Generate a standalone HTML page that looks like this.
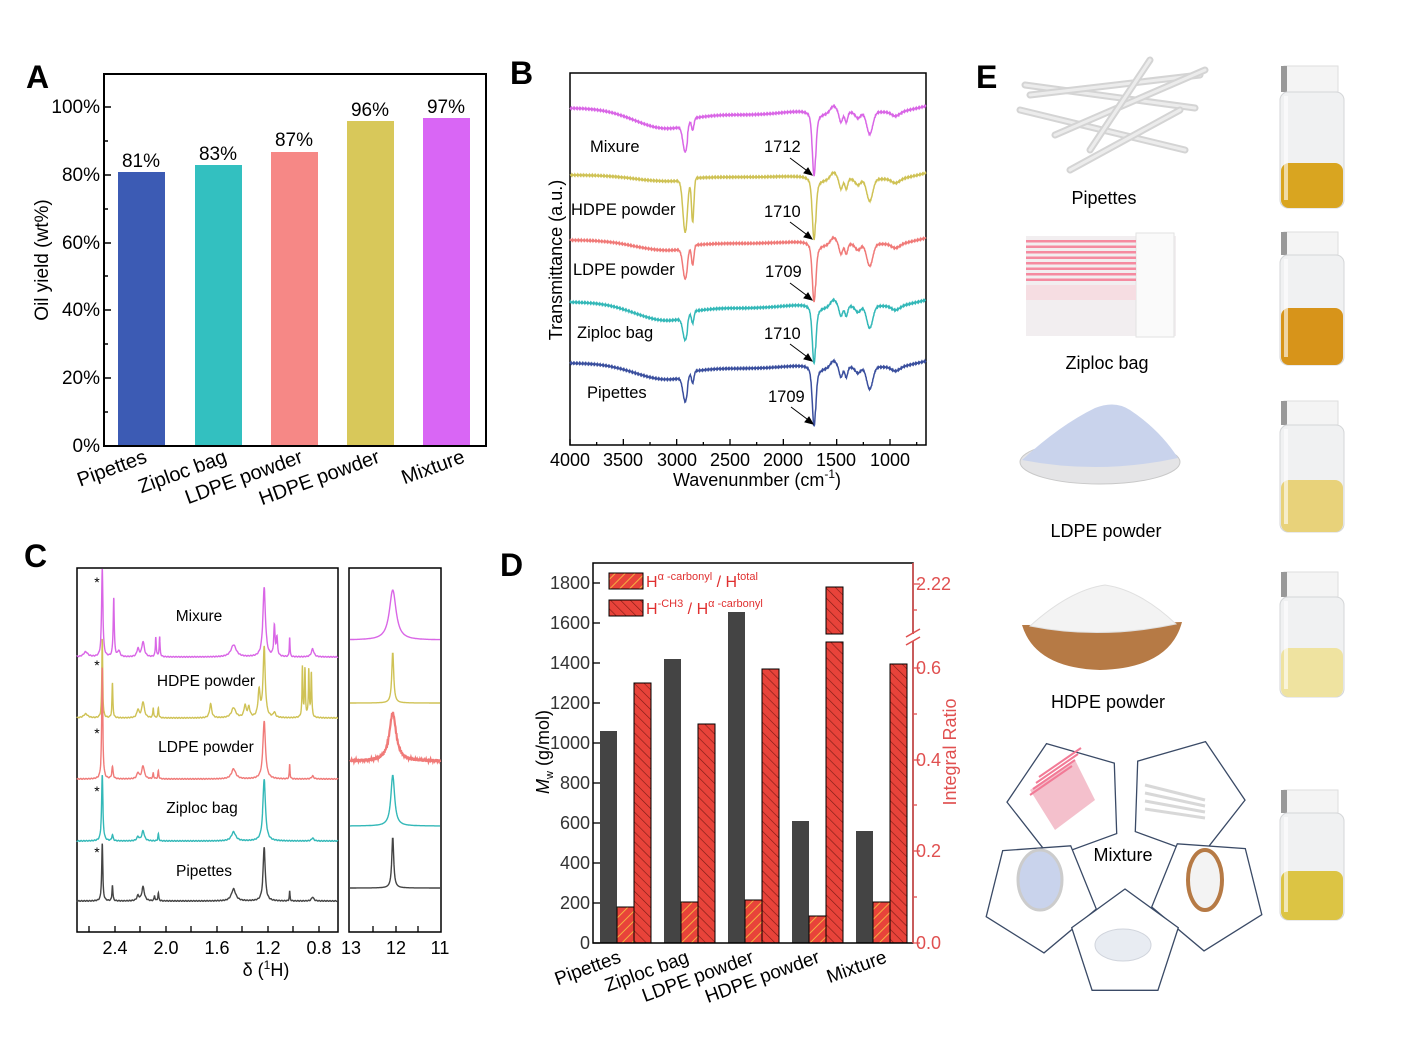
<!DOCTYPE html>
<html><head><meta charset="utf-8"><style>
html,body{margin:0;padding:0;background:#fff}
svg{display:block;font-family:"Liberation Sans",Arial,sans-serif}
</style></head><body>
<svg id="s" width="1416" height="1063" viewBox="0 0 1416 1063" xmlns="http://www.w3.org/2000/svg">
<defs>
<pattern id="h1" width="7" height="7" patternUnits="userSpaceOnUse" patternTransform="rotate(45)"><rect width="7" height="7" fill="#e8433a"/><line x1="0" y1="0" x2="0" y2="7" stroke="#f5b040" stroke-width="2"/></pattern>
<pattern id="h2" width="7" height="7" patternUnits="userSpaceOnUse" patternTransform="rotate(-45)"><rect width="7" height="7" fill="#e8433a"/><line x1="0" y1="0" x2="0" y2="7" stroke="#7a1a14" stroke-width="1.2"/></pattern>
</defs>
<!-- Panel A -->
<text x="26" y="88" font-size="32" font-weight="bold">A</text>
<g fill="none" stroke="#000" stroke-width="2"><rect x="104" y="74" width="382" height="372"/></g>
<g font-size="19" text-anchor="end">
<text x="100" y="452">0%</text><text x="100" y="384">20%</text><text x="100" y="316">40%</text><text x="100" y="249">60%</text><text x="100" y="181">80%</text><text x="100" y="113">100%</text>
</g>
<g stroke="#000" stroke-width="1.5">
<line x1="104" y1="446" x2="111" y2="446"/><line x1="104" y1="378" x2="111" y2="378"/><line x1="104" y1="310" x2="111" y2="310"/><line x1="104" y1="243" x2="111" y2="243"/><line x1="104" y1="175" x2="111" y2="175"/><line x1="104" y1="107" x2="111" y2="107"/>
<line x1="104" y1="412" x2="108" y2="412"/><line x1="104" y1="344" x2="108" y2="344"/><line x1="104" y1="276" x2="108" y2="276"/><line x1="104" y1="209" x2="108" y2="209"/><line x1="104" y1="141" x2="108" y2="141"/>
</g>
<text transform="translate(48,260) rotate(-90)" font-size="19" text-anchor="middle">Oil yield (wt%)</text>
<rect x="118" y="172" width="47" height="273" fill="#3c5bb4"/>
<rect x="195" y="165" width="47" height="280" fill="#33c0c0"/>
<rect x="271" y="152" width="47" height="293" fill="#f68886"/>
<rect x="347" y="121" width="47" height="324" fill="#d8c85a"/>
<rect x="423" y="118" width="47" height="327" fill="#d966f5"/>
<g font-size="19" text-anchor="middle">
<text x="141" y="167">81%</text><text x="218" y="160">83%</text><text x="294" y="146">87%</text><text x="370" y="116">96%</text><text x="446" y="113">97%</text>
</g>
<g font-size="20" text-anchor="end">
<text transform="translate(148,462) rotate(-20)">Pipettes</text>
<text transform="translate(228,462) rotate(-20)">Ziploc bag</text>
<text transform="translate(304,462) rotate(-20)">LDPE powder</text>
<text transform="translate(381,462) rotate(-20)">HDPE powder</text>
<text transform="translate(466,462) rotate(-20)">Mixture</text>
</g>
<!-- Panel B -->
<text x="510" y="84" font-size="32" font-weight="bold">B</text>
<rect x="570" y="73" width="356" height="372" fill="none" stroke="#000" stroke-width="1.5"/>
<g id="bticks" stroke="#000" stroke-width="1.3"></g>
<g font-size="18" text-anchor="middle">
<text x="570" y="466">4000</text><text x="623" y="466">3500</text><text x="677" y="466">3000</text><text x="730" y="466">2500</text><text x="783" y="466">2000</text><text x="836" y="466">1500</text><text x="890" y="466">1000</text>
<text x="757" y="486">Wavenunmber (cm<tspan font-size="12" dy="-8">-1</tspan><tspan dy="8">)</tspan></text>
</g>
<text transform="translate(562,260) rotate(-90)" font-size="18" text-anchor="middle">Transmittance (a.u.)</text>
<g id="ftir" fill="none" stroke-width="1.5"></g>
<g font-size="16.5">
<text x="590" y="152">Mixure</text><text x="571" y="215">HDPE powder</text><text x="573" y="275">LDPE powder</text><text x="577" y="338">Ziploc bag</text><text x="587" y="398">Pipettes</text>
<text x="764" y="152">1712</text><text x="764" y="217">1710</text><text x="765" y="277">1709</text><text x="764" y="339">1710</text><text x="768" y="402">1709</text>
</g>
<g stroke="#000" stroke-width="1" fill="#000">
<line x1="790" y1="158" x2="810" y2="173"/><polygon points="812,175 804,173 808,168"/>
<line x1="790" y1="222" x2="810" y2="237"/><polygon points="812,239 804,237 808,232"/>
<line x1="790" y1="283" x2="810" y2="298"/><polygon points="812,300 804,298 808,293"/>
<line x1="790" y1="344" x2="810" y2="359"/><polygon points="812,361 804,359 808,354"/>
<line x1="791" y1="407" x2="811" y2="422"/><polygon points="813,424 805,422 809,417"/>
</g>
<!-- Panel C -->
<text x="24" y="567" font-size="32" font-weight="bold">C</text>
<rect x="77" y="568" width="261" height="364" fill="none" stroke="#000" stroke-width="1.5"/>
<rect x="349" y="568" width="92" height="364" fill="none" stroke="#000" stroke-width="1.5"/>
<g stroke="#000" stroke-width="1.3">
<line x1="89" y1="932" x2="89" y2="926"/><line x1="115" y1="932" x2="115" y2="926"/><line x1="140" y1="932" x2="140" y2="926"/><line x1="166" y1="932" x2="166" y2="926"/><line x1="191" y1="932" x2="191" y2="926"/><line x1="217" y1="932" x2="217" y2="926"/><line x1="242" y1="932" x2="242" y2="926"/><line x1="268" y1="932" x2="268" y2="926"/><line x1="293" y1="932" x2="293" y2="926"/><line x1="319" y1="932" x2="319" y2="926"/>
<line x1="373" y1="932" x2="373" y2="926"/><line x1="396" y1="932" x2="396" y2="926"/><line x1="418" y1="932" x2="418" y2="926"/>
</g>
<g font-size="18" text-anchor="middle">
<text x="115" y="954">2.4</text><text x="166" y="954">2.0</text><text x="217" y="954">1.6</text><text x="268" y="954">1.2</text><text x="319" y="954">0.8</text>
<text x="351" y="954">13</text><text x="396" y="954">12</text><text x="440" y="954">11</text>
<text x="266" y="976">δ (<tspan font-size="12" dy="-7">1</tspan><tspan dy="7">H)</tspan></text>
</g>
<g id="nmr" fill="none" stroke-width="1.4"></g>
<g font-size="15.5" text-anchor="middle">
<text x="199" y="621">Mixure</text><text x="206" y="686">HDPE powder</text><text x="206" y="752">LDPE powder</text><text x="202" y="813">Ziploc bag</text><text x="204" y="876">Pipettes</text>
</g>
<g font-size="14" text-anchor="middle"><text x="97" y="587">*</text><text x="97" y="670">*</text><text x="97" y="738">*</text><text x="97" y="796">*</text><text x="97" y="857">*</text></g>
<!-- Panel D -->
<text x="500" y="576" font-size="32" font-weight="bold">D</text>
<g id="dbars"></g>
<path d="M593 943 V563 H913 V943 Z" fill="none" stroke="#000" stroke-width="1.5"/>
<line x1="913" y1="563" x2="913" y2="943" stroke="#e05050" stroke-width="1.5"/>
<rect x="908" y="634" width="10" height="7" fill="#fff"/>
<g stroke="#e05050" stroke-width="1.5"><line x1="906" y1="637" x2="920" y2="629"/><line x1="906" y1="645" x2="920" y2="637"/></g>
<g stroke="#e05050" stroke-width="1.3">
<line x1="913" y1="943" x2="920" y2="943"/><line x1="913" y1="897" x2="917" y2="897"/><line x1="913" y1="851" x2="920" y2="851"/><line x1="913" y1="805" x2="917" y2="805"/><line x1="913" y1="760" x2="920" y2="760"/><line x1="913" y1="714" x2="917" y2="714"/><line x1="913" y1="668" x2="920" y2="668"/><line x1="913" y1="584" x2="920" y2="584"/><line x1="913" y1="610" x2="917" y2="610"/>
</g>
<g font-size="18" fill="#e05050">
<text x="916" y="949">0.0</text><text x="916" y="857">0.2</text><text x="916" y="766">0.4</text><text x="916" y="674">0.6</text><text x="916" y="590">2.22</text>
</g>
<text transform="translate(956,752) rotate(-90)" font-size="18" fill="#e05050" text-anchor="middle">Integral Ratio</text>
<g stroke="#000" stroke-width="1.3">
<line x1="593" y1="943" x2="600" y2="943"/><line x1="593" y1="903" x2="600" y2="903"/><line x1="593" y1="863" x2="600" y2="863"/><line x1="593" y1="823" x2="600" y2="823"/><line x1="593" y1="783" x2="600" y2="783"/><line x1="593" y1="743" x2="600" y2="743"/><line x1="593" y1="703" x2="600" y2="703"/><line x1="593" y1="663" x2="600" y2="663"/><line x1="593" y1="623" x2="600" y2="623"/><line x1="593" y1="583" x2="600" y2="583"/>
</g>
<g font-size="18" text-anchor="end" fill="#333">
<text x="590" y="949">0</text><text x="590" y="909">200</text><text x="590" y="869">400</text><text x="590" y="829">600</text><text x="590" y="789">800</text><text x="590" y="749">1000</text><text x="590" y="709">1200</text><text x="590" y="669">1400</text><text x="590" y="629">1600</text><text x="590" y="589">1800</text>
</g>
<text transform="translate(549,752) rotate(-90)" font-size="18" text-anchor="middle"><tspan font-style="italic">M</tspan><tspan font-size="11" dy="4">w</tspan><tspan dy="-4"> (g/mol)</tspan></text>
<rect x="609" y="573" width="34" height="16" fill="url(#h1)" stroke="#000"/>
<rect x="609" y="600" width="34" height="16" fill="url(#h2)" stroke="#000"/>
<g fill="#e03030" font-size="16">
<text x="646" y="587">H<tspan font-size="11" dy="-7">α -carbonyl</tspan><tspan dy="7"> / H</tspan><tspan font-size="11" dy="-7">total</tspan></text>
<text x="646" y="614">H<tspan font-size="11" dy="-7">-CH3</tspan><tspan dy="7"> / H</tspan><tspan font-size="11" dy="-7">α -carbonyl</tspan></text>
</g>
<g font-size="19" text-anchor="end">
<text transform="translate(622,962) rotate(-20)">Pipettes</text>
<text transform="translate(690,962) rotate(-20)">Ziploc bag</text>
<text transform="translate(755,962) rotate(-20)">LDPE powder</text>
<text transform="translate(821,962) rotate(-20)">HDPE powder</text>
<text transform="translate(888,962) rotate(-20)">Mixture</text>
</g>
<!-- Panel E -->
<text x="976" y="88" font-size="32" font-weight="bold">E</text>
<g id="epics"></g>
<g font-size="18" text-anchor="middle">
<text x="1104" y="204">Pipettes</text><text x="1107" y="369">Ziploc bag</text><text x="1106" y="537">LDPE powder</text><text x="1108" y="708">HDPE powder</text><text x="1123" y="861">Mixture</text>
</g>
</svg>
<script>
var NS="http://www.w3.org/2000/svg";
function el(p,t,a){var e=document.createElementNS(NS,t);for(var k in a)e.setAttribute(k,a[k]);p.appendChild(e);return e;}
var bt=document.getElementById("bticks");
for(var w=4000;w>=700;w-=250){var x=570+(4000-w)*0.10667;el(bt,"line",{x1:x,y1:445,x2:x,y2:w%500==0?439:442});}
function lor(x,c,w){return 1/(1+((x-c)/w)*((x-c)/w));}
function gau(x,c,w){return Math.exp(-Math.pow((x-c)/w,2));}
var ft=[
 {b:108,c:"#d966e6",oh:20,ch:26,ch2:12,co:66},
 {b:175,c:"#cfc255",oh:6,ch:52,ch2:44,co:64},
 {b:240,c:"#f07a78",oh:10,ch:30,ch2:20,co:61},
 {b:302,c:"#33b8b8",oh:18,ch:22,ch2:12,co:60},
 {b:363,c:"#3a4f9e",oh:16,ch:24,ch2:12,co:62}];
var fg=document.getElementById("ftir");
ft.forEach(function(s,i){var d="";var seed=i*7;
 for(var w=4000;w>=663;w-=4){var y=s.b+s.oh*gau(w,3100,420)*(w<2900?0.6:1)+5*gau(w,2300,500)*(s.oh/16);
  y+=s.ch*gau(w,2920,30)+s.ch2*gau(w,2850,16)+s.co*(0.7*gau(w,1712,22)+0.3*lor(w,1712,30));
  if(w<1700){y+=4+10*gau(w,1460,22)+10*gau(w,1410,18)+6*gau(w,1300,35)+22*gau(w,1190,40)+4*gau(w,950,50)-7*gau(w,1530,40)-(w<900?(900-w)*0.025:0);}
  y+=Math.sin(w*0.9+seed)*0.6;
  var x=570+(4000-w)*0.10667;d+=(d?"L":"M")+x.toFixed(1)+" "+y.toFixed(1);}
 el(fg,"path",{d:d,stroke:s.c});});
function X(dl){return 115+(2.4-dl)*127.5;}
var nm=[
 {b:657,c:"#d966e6",p:[[2.5,89,.006],[2.41,59,.005],[2.37,6,.01],[2.22,8,.01],[2.18,15,.012],[2.08,20,.004],[2.05,20,.004],[1.47,12,.025],[1.23,69,.012],[1.15,30,.006],[1.13,18,.006],[1.03,20,.003],[0.85,8,.012],[2.63,5,.02]],rb:640,rh:50,rw:.09},
 {b:718,c:"#cfc255",p:[[2.5,80,.004],[2.42,35,.004],[2.22,8,.01],[2.18,16,.012],[2.1,10,.004],[2.06,10,.004],[1.65,14,.01],[1.47,10,.02],[1.38,12,.01],[1.35,10,.01],[1.27,26,.01],[1.23,70,.01],[1.15,5,.01],[0.93,50,.004],[0.91,48,.004],[0.88,48,.004],[0.86,45,.004],[2.63,4,.02]],rb:703,rh:52,rw:.025},
 {b:779,c:"#f07a78",p:[[2.5,112,.005],[2.42,12,.006],[2.22,6,.01],[2.18,13,.012],[2.1,6,.004],[2.06,8,.004],[1.47,10,.02],[1.23,58,.012],[1.03,15,.003],[0.85,3,.01]],rb:761,rh:48,rw:.09,noise:1},
 {b:841,c:"#33b8b8",p:[[2.5,66,.006],[2.42,6,.006],[2.22,4,.01],[2.18,10,.012],[2.06,7,.004],[1.47,9,.02],[1.23,62,.012],[0.85,3,.01]],rb:826,rh:51,rw:.05},
 {b:901,c:"#444",p:[[2.5,58,.005],[2.42,16,.004],[2.22,5,.01],[2.18,14,.012],[2.09,5,.004],[2.06,8,.004],[1.47,12,.02],[1.23,54,.01],[1.03,10,.003],[0.85,4,.01]],rb:888,rh:52,rw:.025}];
var ng=document.getElementById("nmr");
nm.forEach(function(s,i){var d="";
 for(var dl=2.7;dl>=0.65;dl-=0.0015){var y=s.b;s.p.forEach(function(p){y-=p[1]*lor(dl,p[0],p[2]);});
  y+=Math.sin(dl*300+i)*0.4;y=Math.max(y,569);
  d+=(d?"L":"M")+X(dl).toFixed(1)+" "+y.toFixed(1);}
 el(ng,"path",{d:d,stroke:s.c});
 var d2="";for(var x=350;x<=440;x+=0.5){var dl=13-(x-350)/45;var y=s.rb-s.rh*lor(dl,12.05,s.rw);if(s.noise)y+=Math.sin(x*7)*1.5;d2+=(d2?"L":"M")+x+" "+y.toFixed(1);}
 el(ng,"path",{d:d2,stroke:s.c,"stroke-width":s.noise?2.2:1.4});});
var db=document.getElementById("dbars");
var gt=[731,659,612,821,831],ot=[907,902,900,916,902],rt=[683,724,669,587,664];
for(var i=0;i<5;i++){var x0=600+i*64;
 el(db,"rect",{x:x0,y:gt[i],width:17,height:943-gt[i],fill:"#444"});
 el(db,"rect",{x:x0+17,y:ot[i],width:17,height:943-ot[i],fill:"url(#h1)",stroke:"#000","stroke-width":1});
 if(i==3){el(db,"rect",{x:x0+34,y:587,width:17,height:47,fill:"url(#h2)",stroke:"#000","stroke-width":1});
  el(db,"rect",{x:x0+34,y:642,width:17,height:301,fill:"url(#h2)",stroke:"#000","stroke-width":1});}
 else el(db,"rect",{x:x0+34,y:rt[i],width:17,height:943-rt[i],fill:"url(#h2)",stroke:"#000","stroke-width":1});}
var ep=document.getElementById("epics");
[[1025,85,1195,108],[1030,95,1200,75],[1020,110,1185,150],[1055,135,1205,70],[1070,170,1180,110],[1090,150,1150,60]].forEach(function(p){el(ep,"line",{x1:p[0],y1:p[1],x2:p[2],y2:p[3],stroke:"#d4d4d4","stroke-width":7,"stroke-linecap":"round"});el(ep,"line",{x1:p[0],y1:p[1],x2:p[2],y2:p[3],stroke:"#ececec","stroke-width":3,"stroke-linecap":"round"});});
el(ep,"rect",{x:1026,y:236,width:150,height:100,fill:"#f2eef0"});
el(ep,"rect",{x:1136,y:233,width:38,height:104,fill:"#fafafa",stroke:"#e2e2e2"});
for(var k=0;k<8;k++)el(ep,"rect",{x:1026,y:240+k*5.5,width:110,height:2.5,fill:"#f58aa0"});
el(ep,"rect",{x:1026,y:285,width:110,height:15,fill:"#f6dde2"});
el(ep,"ellipse",{cx:1100,cy:462,rx:80,ry:22,fill:"#e4e4e6",stroke:"#c8c8c8"});
el(ep,"path",{d:"M1022 460 Q1060 425 1095 408 Q1115 400 1130 410 Q1160 430 1178 458 Q1100 475 1022 460Z",fill:"#c9d3ec"});
el(ep,"path",{d:"M1022 625 Q1100 625 1182 622 Q1170 668 1100 670 Q1035 668 1022 625Z",fill:"#b67a45"});
el(ep,"path",{d:"M1030 626 Q1070 590 1105 585 Q1140 590 1176 624 Q1100 640 1030 626Z",fill:"#f3f3f3",stroke:"#e0e0e0"});
function pent(cx,cy,r,rot){var pts=[];for(var k=0;k<5;k++){var a=(rot+k*72-90)*Math.PI/180;pts.push((cx+r*Math.cos(a)).toFixed(1)+","+(cy+r*Math.sin(a)).toFixed(1));}
 el(ep,"polygon",{points:pts.join(" "),fill:"#fff",stroke:"#3a4a66","stroke-width":1.3});}
pent(1067,800,60,-20);pent(1185,798,60,20);pent(1040,895,58,-40);pent(1208,893,58,40);pent(1125,945,56,0);
el(ep,"path",{d:"M1030 790 L1075 760 L1095 800 L1055 830Z",fill:"#f4c0cc"});
for(var k=0;k<4;k++)el(ep,"line",{x1:1030+k*3,y1:795-k*6,x2:1072+k*3,y2:766-k*6,stroke:"#f27a96","stroke-width":2});
for(var k=0;k<4;k++)el(ep,"line",{x1:1145,y1:785+k*8,x2:1205,y2:800+k*6,stroke:"#d8d8d8","stroke-width":3});
el(ep,"ellipse",{cx:1040,cy:880,rx:22,ry:30,fill:"#c9d3ec",stroke:"#ccc","stroke-width":3});
el(ep,"ellipse",{cx:1205,cy:880,rx:17,ry:30,fill:"#f3f3f3",stroke:"#b67a45","stroke-width":4});
el(ep,"ellipse",{cx:1123,cy:945,rx:28,ry:16,fill:"#e8ecf2",stroke:"#d0d4dc"});
var vv=[[66,92,208,163,"#d9a520"],[232,255,365,308,"#d7941a"],[401,425,532,480,"#e8d27a"],[572,597,697,648,"#efe3a0"],[790,813,920,871,"#dcc444"]];
vv.forEach(function(v){
 el(ep,"rect",{x:1284,y:v[0],width:54,height:v[1]-v[0],fill:"#f4f4f4",stroke:"#dedede"});
 el(ep,"rect",{x:1281,y:v[0],width:6,height:v[1]-v[0],fill:"#999"});
 el(ep,"rect",{x:1280,y:v[1],width:64,height:v[2]-v[1],rx:8,fill:"#f0f1f2",stroke:"#d4d6d8"});
 el(ep,"rect",{x:1281,y:v[3],width:62,height:v[2]-v[3],rx:8,fill:v[4]});
 el(ep,"rect",{x:1284,y:v[1]+4,width:4,height:v[2]-v[1]-12,fill:"#fff",opacity:0.6});
});
</script>
</body></html>
